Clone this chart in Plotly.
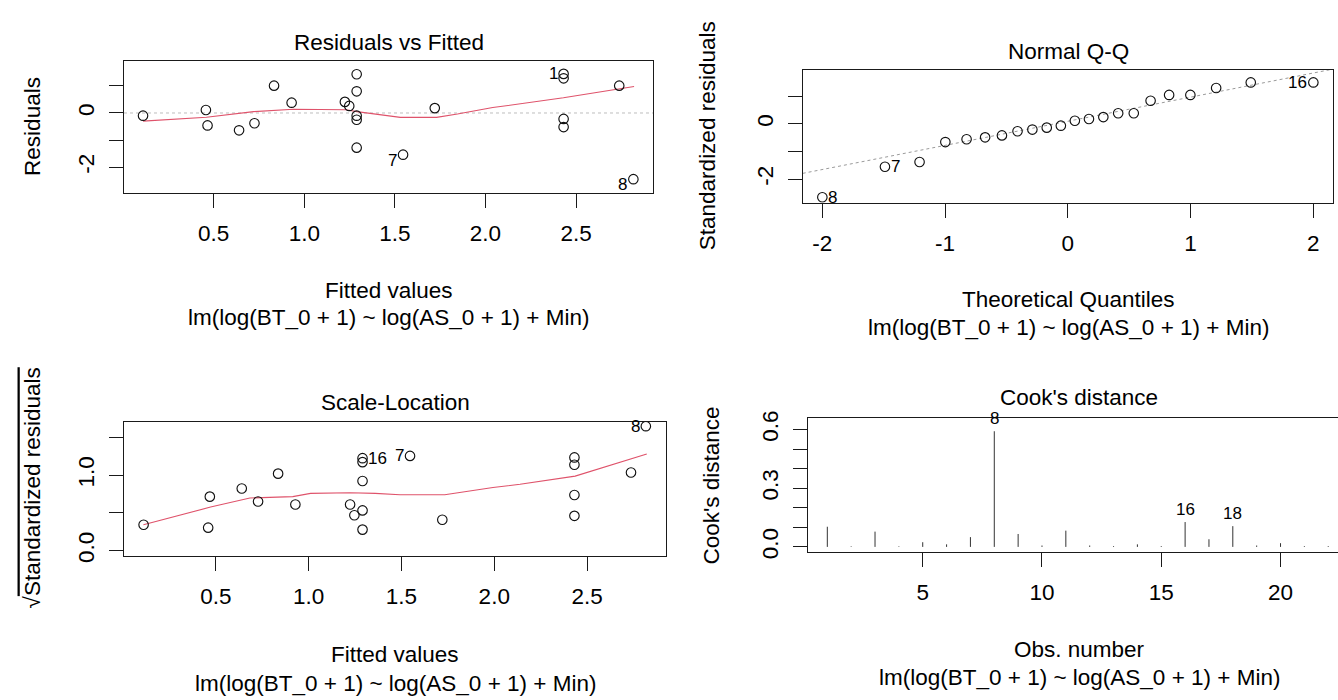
import plotly.graph_objects as go

# ---------------- data ----------------
# Residuals vs Fitted
rvf_fitted = [0.11, 0.457, 0.466, 0.64, 0.725, 0.833, 0.93, 1.224, 1.248, 1.289, 1.289,
              1.289, 1.289, 1.289, 1.545, 1.72, 2.431, 2.431, 2.431, 2.431, 2.738, 2.816]
rvf_resid = [-0.10, 0.11, -0.46, -0.64, -0.38, 1.01, 0.38, 0.41, 0.26, 1.43, 0.80,
             -0.10, -0.25, -1.28, -1.54, 0.18, 1.445, 1.28, -0.22, -0.52, 1.01, -2.445]
rvf_smooth_x = [0.11, 0.46, 0.72, 0.94, 1.23, 1.29, 1.53, 1.73, 1.845, 2.04, 2.43, 2.82]
rvf_smooth_y = [-0.30, -0.16, 0.05, 0.14, 0.12, 0.05, -0.16, -0.16, -0.04, 0.20, 0.56, 0.98]
rvf_label_text = ["1", "7", "8"]
rvf_label_idx = [16, 14, 21]

# Normal Q-Q
qq_theoretical = [-2.000, -1.490, -1.208, -0.998, -0.825, -0.674, -0.537, -0.410, -0.289, -0.172, -0.057,
                  0.057, 0.172, 0.289, 0.410, 0.537, 0.674, 0.825, 0.998, 1.208, 1.490, 2.000]
qq_std_resid = [-2.65, -1.55, -1.38, -0.66, -0.56, -0.49, -0.42, -0.27, -0.21, -0.14, -0.07,
                0.11, 0.17, 0.24, 0.38, 0.38, 0.83, 1.04, 1.04, 1.29, 1.49, 1.49]
qq_line_x = [-2.16, 2.16]
qq_line_y = [-1.79, 1.97]
qq_label_text = ["8", "7", "16"]
qq_label_idx = [0, 1, 21]

# Scale-Location
sl_fitted = [0.110, 0.467, 0.458, 0.639, 0.727, 0.835, 0.928, 1.223, 1.246, 1.290, 1.290,
             1.290, 1.290, 1.290, 1.546, 1.720, 2.432, 2.432, 2.432, 2.432, 2.737, 2.817]
sl_sqrt_std = [0.345, 0.716, 0.306, 0.824, 0.652, 1.02, 0.612, 0.612, 0.47, 1.224, 1.172,
               0.922, 0.534, 0.28, 1.254, 0.41, 1.234, 1.138, 0.737, 0.462, 1.035, 1.647]
sl_smooth_x = [0.109, 0.471, 0.683, 0.914, 1.01, 1.223, 1.358, 1.492, 1.733, 1.993, 2.139, 2.436, 2.822]
sl_smooth_y = [0.345, 0.578, 0.698, 0.716, 0.759, 0.767, 0.759, 0.741, 0.741, 0.836, 0.879, 0.987, 1.28]
sl_label_text = ["16", "7", "8"]
sl_label_idx = [9, 14, 21]

# Cook's distance
cook_obs = list(range(1, 23))
cook_d = [0.103, 0.003, 0.078, 0.003, 0.024, 0.013, 0.050, 0.591, 0.066, 0.007, 0.083,
          0.007, 0.004, 0.013, 0.004, 0.127, 0.039, 0.106, 0.007, 0.019, 0.004, 0.004]
cook_label_obs = [8, 16, 18]

caption = "lm(log(BT_0 + 1) ~ log(AS_0 + 1) + Min)"

# ---------------- layout helpers ----------------
W, H = 1338, 700
FONT = "Liberation Sans, Arial, sans-serif"
FS = 22.5
LAB = 17
RED = "#DF536B"
INK = "#1a1a1a"


def fx(p):
    return p / W


def fy(p):
    return 1 - p / H


fig = go.Figure()

marker = dict(symbol="circle-open", size=9.5, color="#111111", line=dict(width=1.15, color="#111111"))

# Panel 1
fig.add_trace(go.Scatter(x=rvf_smooth_x, y=rvf_smooth_y, mode="lines",
                         line=dict(color=RED, width=1.1), xaxis="x", yaxis="y"))
fig.add_trace(go.Scatter(x=rvf_fitted, y=rvf_resid, mode="markers", marker=marker,
                         xaxis="x", yaxis="y"))
# Panel 2
fig.add_trace(go.Scatter(x=qq_line_x, y=qq_line_y, mode="lines",
                         line=dict(color="#9a9a9a", width=1, dash="dot"), xaxis="x2", yaxis="y2"))
fig.add_trace(go.Scatter(x=qq_theoretical, y=qq_std_resid, mode="markers", marker=marker,
                         xaxis="x2", yaxis="y2"))
# Panel 3
fig.add_trace(go.Scatter(x=sl_smooth_x, y=sl_smooth_y, mode="lines",
                         line=dict(color=RED, width=1.1), xaxis="x3", yaxis="y3"))
fig.add_trace(go.Scatter(x=sl_fitted, y=sl_sqrt_std, mode="markers", marker=marker,
                         xaxis="x3", yaxis="y3"))
# Panel 4
bx, by = [], []
for o, d in zip(cook_obs, cook_d):
    bx += [o, o, None]
    by += [0, d, None]
fig.add_trace(go.Scatter(x=bx, y=by, mode="lines", line=dict(color="#333333", width=1),
                         xaxis="x4", yaxis="y4"))

ax = dict(showline=True, linecolor=INK, linewidth=1, ticks="outside", ticklen=14,
          tickwidth=1, tickcolor=INK, showgrid=False, zeroline=False,
          tickfont=dict(family=FONT, size=FS, color="black"))

fig.update_layout(
    width=W, height=H, margin=dict(l=0, r=0, t=0, b=0),
    paper_bgcolor="white", plot_bgcolor="white", showlegend=False,
    font=dict(family=FONT, size=FS, color="black"),
    xaxis=dict(ax, domain=[fx(124), fx(653.3)], range=[0.005, 2.926], anchor="y", mirror=True,
               tickvals=[0.5, 1.0, 1.5, 2.0, 2.5], ticktext=["0.5", "1.0", "1.5", "2.0", "2.5"],
               ticklabelstandoff=6),
    yaxis=dict(ax, domain=[fy(189), fy(54.3)], range=[-2.953, 1.915], anchor="x", mirror=True,
               tickvals=[-2, -1, 0, 1], ticktext=["-2", "", "0", ""], tickangle=-90,
               ticklabelstandoff=6),
    xaxis2=dict(ax, domain=[fx(802.7), fx(1333)], range=[-2.16, 2.16], anchor="y2", mirror=True,
                tickvals=[-2, -1, 0, 1, 2], ticktext=["-2", "-1", "0", "1", "2"],
                ticklabelstandoff=6),
    yaxis2=dict(ax, domain=[fy(199), fy(63.3)], range=[-2.849, 1.941], anchor="x2", mirror=True,
                tickvals=[-2, -1, 0, 1], ticktext=["-2", "", "0", ""], tickangle=-90,
                ticklabelstandoff=6),
    xaxis3=dict(ax, domain=[fx(124.3), fx(665.7)], range=[0.006, 2.924], anchor="y3", mirror=True,
                tickvals=[0.5, 1.0, 1.5, 2.0, 2.5], ticktext=["0.5", "1.0", "1.5", "2.0", "2.5"],
                ticklabelstandoff=6),
    yaxis3=dict(ax, domain=[fy(560.3), fy(422.7)], range=[-0.0724, 1.707], anchor="x3", mirror=True,
                tickvals=[0, 0.5, 1.0, 1.5], ticktext=["0.0", "", "1.0", ""], tickangle=-90,
                ticklabelstandoff=6),
    xaxis4=dict(ax, domain=[fx(808), 1.0], range=[0.19, 22.41], anchor="y4", mirror=True,
                tickvals=[5, 10, 15, 20], ticktext=["5", "10", "15", "20"],
                ticklabelstandoff=6),
    yaxis4=dict(ax, domain=[fy(556), fy(419.3)], range=[-0.0265, 0.657], anchor="x4", mirror=False,
                tickvals=[0, 0.1, 0.2, 0.3, 0.4, 0.5, 0.6],
                ticktext=["0.0", "", "", "0.3", "", "", "0.6"], tickangle=-90,
                ticklabelstandoff=6),
)

# zero reference line in panel 1
fig.add_shape(type="line", xref="x domain", x0=0, x1=1, yref="y", y0=0, y1=0,
              line=dict(color="#bdbdbd", width=1, dash="dot"), layer="below")

ann = []


def txt(px, py, s, angle=0, size=FS):
    ann.append(dict(x=fx(px), y=fy(py), xref="paper", yref="paper", text=s, showarrow=False,
                    xanchor="center", yanchor="middle", textangle=angle,
                    font=dict(family=FONT, size=size, color="black")))


# titles
txt(388.5, 35, "Residuals vs Fitted")
txt(1068, 44, "Normal Q-Q")
txt(395, 403, "Scale-Location")
txt(1079, 398, "Cook's distance")
# x-axis titles + captions
txt(388.5, 289, "Fitted values")
txt(388.5, 316, caption)
txt(1068, 298, "Theoretical Quantiles")
txt(1068, 326, caption)
txt(395, 661, "Fitted values")
txt(395, 690, caption)
txt(1079, 656, "Obs. number")
txt(1079, 684, caption)
# y-axis titles
txt(33, 121.5, "Residuals", angle=-90)
txt(707, 131, "Standardized residuals", angle=-90)
txt(32, 491, "√<span style='text-decoration:overline'>Standardized residuals</span>", angle=-90)
txt(712, 488, "Cook's distance", angle=-90)

# point id labels
for s, i in zip(rvf_label_text, rvf_label_idx):
    ann.append(dict(x=rvf_fitted[i], y=rvf_resid[i], xref="x", yref="y", text=s, showarrow=False,
                    xanchor="right", yanchor="middle", xshift=-4,
                    yshift=(-5.5 if rvf_resid[i] < 0 else 0),
                    font=dict(family=FONT, size=LAB, color="black")))
for s, i in zip(qq_label_text, qq_label_idx):
    left = qq_theoretical[i] < 0
    ann.append(dict(x=qq_theoretical[i], y=qq_std_resid[i], xref="x2", yref="y2", text=s,
                    showarrow=False, xanchor=("left" if left else "right"), yanchor="middle",
                    xshift=(4 if left else -4),
                    font=dict(family=FONT, size=LAB, color="black")))
for s, i in zip(sl_label_text, sl_label_idx):
    left = sl_fitted[i] < 1.46
    ann.append(dict(x=sl_fitted[i], y=sl_sqrt_std[i], xref="x3", yref="y3", text=s,
                    showarrow=False, xanchor=("left" if left else "right"), yanchor="middle",
                    xshift=(3 if left else -4),
                    font=dict(family=FONT, size=LAB, color="black")))
for o in cook_label_obs:
    ann.append(dict(x=o, y=cook_d[o - 1], xref="x4", yref="y4", text=str(o), showarrow=False,
                    xanchor="center", yanchor="bottom", yshift=1,
                    font=dict(family=FONT, size=LAB, color="black")))

fig.update_layout(annotations=ann)
fig.write_html("out.html")
